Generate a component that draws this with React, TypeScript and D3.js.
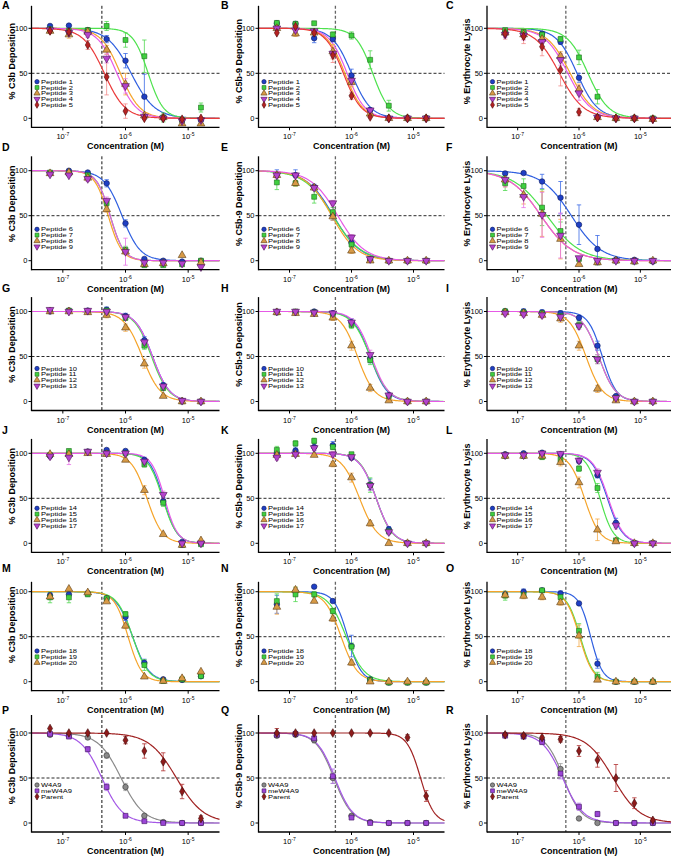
import React from 'react';
import * as d3 from 'd3';

// ---------- shared data ----------
const concentrations = [6.25e-8, 1.25e-7, 2.5e-7, 5e-7, 1e-6, 2e-6, 4e-6, 8e-6, 1.6e-5];
const xTickValues = [1e-7, 1e-6, 1e-5];
const xTickExponents = ['-7', '-6', '-5'];
const yTickValues = [0, 50, 100];
const panelLetters = ['A', 'B', 'C', 'D', 'E', 'F', 'G', 'H', 'I', 'J', 'K', 'L', 'M', 'N', 'O', 'P', 'Q', 'R'];
const yTitles = ['% C3b Deposition', '% C5b-9 Deposition', '% Erythrocyte Lysis'];
const xTitle = 'Concentration (M)';
const refConcentration = [4.2e-7, 5.5e-7, 6.1e-7];

// ---------- series labels ----------
const labelsRow1 = ['Peptide 1', 'Peptide 2', 'Peptide 3', 'Peptide 4', 'Peptide 5'];
const labelsRow2 = ['Peptide 6', 'Peptide 7', 'Peptide 8', 'Peptide 9'];
const labelsRow3 = ['Peptide 10', 'Peptide 11', 'Peptide 12', 'Peptide 13'];
const labelsRow4 = ['Peptide 14', 'Peptide 15', 'Peptide 16', 'Peptide 17'];
const labelsRow5 = ['Peptide 18', 'Peptide 19', 'Peptide 20'];
const labelsRow6 = ['W4A9', 'meW4A9', 'Parent'];

// ---------- panel A ----------
const valuesA = [
  [102.6, 103, 98, 88, 64, 24, 1, -2, -2],
  [99, 97, 98, 102.6, 87, 69, 1, -2, 12],
  [97, 93, 96, 76, 38, 3, 1, -6, -6],
  [98, 95, 93, 66.5, 36, 2, 0, -3, -2],
  [97, 96, 81.5, 46, 8, 0, 0, -1, 0],
];
const errorsA = [
  [2, 2, 2, 4, 8, 25, 2, 3, 2],
  [2, 2, 2, 5, 8, 18, 5, 2, 5],
  [3, 4, 3, 5, 12, 2, 2, 2, 2],
  [2, 3, 3, 5, 8, 2, 2, 2, 2],
  [2, 3, 5, 20, 8, 2, 2, 2, 2],
];
const ic50A = [1.23e-6, 2.3e-6, 8.3e-7, 7.3e-7, 4.6e-7];
const hillA = [2.3, 3.6, 2.8, 2.8, 2.6];

// ---------- panel B ----------
const valuesB = [
  [105.6, 105, 89, 88, 47.6, 9, 0, 0, 0],
  [106, 105, 105.6, 93, 92, 65, 14, 0, 0],
  [100, 94, 95, 74, 40, 5, 0, 0, 0],
  [100, 98, 97, 72, 42, 9, 0, 0, 0],
  [95, 102, 95, 70, 25, 1.5, 0, 0, 0],
];
const errorsB = [
  [2, 2, 5, 3, 7, 3, 1, 1, 1],
  [2, 2, 2, 3, 4, 10, 6, 1, 1],
  [2, 3, 2, 8, 5, 2, 1, 1, 1],
  [2, 2, 2, 5, 5, 2, 1, 1, 1],
  [2, 2, 2, 8, 4, 1, 1, 1, 1],
];
const ic50B = [1.0e-6, 2.2e-6, 7.8e-7, 8.5e-7, 7.4e-7];
const hillB = [2.8, 3.2, 3, 3, 3];

// ---------- panel C ----------
const valuesC = [
  [96, 95, 94, 85, 45, 1.5, 0, 0, -1],
  [98, 96, 93, 88, 67.7, 24, 0, 0, 0],
  [95, 93, 88, 69, 32, 1, 0, 0, -1],
  [93, 92, 85, 65, 28, 1, 0, 0, -1],
  [94, 91, 79.5, 54, 7, 0.7, 0, 0, -1],
];
const errorsC = [
  [2, 2, 2, 3, 5, 2, 1, 1, 1],
  [2, 3, 3, 3, 8, 8, 1, 1, 1],
  [3, 5, 5, 5, 6, 2, 1, 1, 1],
  [3, 5, 5, 6, 8, 2, 1, 1, 1],
  [6, 8, 10, 18, 4, 2, 1, 1, 1],
];
const ic50C = [9.3e-7, 1.4e-6, 7.2e-7, 6.6e-7, 4.8e-7];
const hillC = [2.6, 2.6, 2.3, 2.3, 2.2];

// ---------- panel D ----------
const valuesD = [
  [97, 100, 98, 86, 41.5, 2, 0, -1, 0],
  [98, 97, 95, 64, 12, -5, -5, -4, 0],
  [97, 98, 92, 57, 10, -4, -3, 6, -2],
  [96, 95, 91, 66.7, 10, -2, -2, -3, -7],
];
const errorsD = [
  [2, 2, 2, 4, 4, 2, 1, 1, 1],
  [2, 2, 3, 4, 4, 2, 2, 2, 2],
  [2, 2, 3, 3, 3, 2, 2, 2, 2],
  [2, 2, 3, 4, 15, 2, 2, 2, 2],
];
const ic50D = [8.8e-7, 5.7e-7, 5.3e-7, 5.7e-7];
const hillD = [3, 4, 4, 4];

// ---------- panel E ----------
const valuesE = [
  [95, 95, 82, 50, 20, 1, 0, 0, 0],
  [87, 86, 71, 54, 18, 2, 0, 0, 0],
  [95, 86, 81, 49, 11, 0, 0, 0, 0],
  [95, 95, 81, 64, 26, 2, 0, 0, 0],
];
const errorsE = [
  [6, 6, 3, 5, 3, 1, 1, 1, 1],
  [8, 3, 7, 5, 3, 1, 1, 1, 1],
  [3, 3, 3, 4, 3, 1, 1, 1, 1],
  [3, 3, 3, 3, 3, 1, 1, 1, 1],
];
const ic50E = [5.1e-7, 5.0e-7, 4.8e-7, 6.0e-7];
const hillE = [2.0, 1.9, 2.1, 2.0];

// ---------- panel F ----------
const valuesF = [
  [97, 97.4, 88, 70, 40, 13, 1, 1, -1],
  [86, 83, 59, 33, 2, -2, 0, -1, 0],
  [90, 73, 52, 24, -4, -2, 0, -1, 0],
  [90, 71, 51, 28, 3, 0, 0, 0, 0],
];
const errorsF = [
  [2, 2, 8, 18, 22, 15, 2, 2, 2],
  [8, 8, 20, 10, 2, 2, 1, 1, 1],
  [8, 10, 25, 22, 2, 2, 1, 1, 1],
  [8, 12, 25, 25, 2, 2, 1, 1, 1],
];
const ic50F = [7.5e-7, 3.0e-7, 2.4e-7, 2.4e-7];
const hillF = [1.8, 1.6, 1.7, 1.7];

// ---------- panel G ----------
const valuesG = [
  [100, 101, 101, 102, 95, 68, 18, 1, 0],
  [101, 101, 100, 101, 93, 62, 15, 0, 0],
  [100, 100, 99, 96, 82, 42, 6, 0, 0],
  [102, 100, 101, 100, 94, 66, 17, 1, 0],
];
const errorsG = [
  [2, 2, 2, 3, 3, 4, 3, 1, 1],
  [2, 2, 2, 3, 3, 4, 3, 1, 1],
  [2, 2, 2, 3, 4, 5, 2, 1, 1],
  [2, 2, 2, 3, 3, 4, 3, 1, 1],
];
const ic50G = [2.7e-6, 2.6e-6, 1.85e-6, 2.7e-6];
const hillG = [3.2, 3.2, 3, 3.2];

// ---------- panel H ----------
const valuesH = [
  [100, 99, 100, 98, 88, 48, 7, 0, 0],
  [99, 100, 99, 97, 85, 46, 6, 0, 0],
  [99, 98, 97, 93, 62, 15, 1, 0, 0],
  [100, 100, 99, 98, 88, 52, 7, 0, 0],
];
const errorsH = [
  [2, 2, 2, 3, 4, 5, 2, 1, 1],
  [2, 2, 2, 3, 4, 5, 2, 1, 1],
  [2, 2, 2, 3, 5, 4, 1, 1, 1],
  [2, 2, 2, 3, 4, 5, 2, 1, 1],
];
const ic50H = [2.0e-6, 2.0e-6, 1.25e-6, 2.1e-6];
const hillH = [3.2, 3, 3.2, 3.2];

// ---------- panel I ----------
const valuesI = [
  [100, 100, 99, 98, 93, 62, 6, 0, 0],
  [100, 99, 98, 95, 85, 47, 4, 0, 0],
  [99, 98, 96, 92, 62, 14, 1, 0, 0],
  [98, 97, 96, 94, 84, 47, 4, 0, 0],
];
const errorsI = [
  [3, 3, 3, 3, 3, 5, 2, 1, 1],
  [3, 3, 3, 3, 4, 5, 2, 1, 1],
  [3, 3, 3, 4, 5, 4, 1, 1, 1],
  [3, 3, 3, 3, 4, 5, 2, 1, 1],
];
const ic50I = [2.4e-6, 2.1e-6, 1.3e-6, 2.1e-6];
const hillI = [3.8, 3.2, 3.2, 3.2];

// ---------- panel J ----------
const valuesJ = [
  [97, 100, 102, 103.7, 102.6, 92.6, 46.8, 1.5, 0],
  [98, 102.6, 101, 100, 100, 87.7, 45, -2, -1],
  [99, 99, 100, 99, 92.6, 59, 10, -2, 3],
  [96.7, 95.5, 102, 100, 100, 91, 54, 0, 0],
];
const errorsJ = [
  [2, 2, 2, 2, 2, 3, 4, 2, 1],
  [2, 2, 2, 2, 2, 3, 4, 2, 1],
  [2, 2, 2, 2, 2, 5, 2, 2, 2],
  [3, 8, 2, 2, 2, 3, 4, 2, 1],
];
const ic50J = [4.0e-6, 3.9e-6, 2.2e-6, 4.2e-6];
const hillJ = [4, 3.8, 3.5, 4.2];

// ---------- panel K ----------
const valuesK = [
  [100, 103, 107, 109, 95, 65.4, 15.6, 0, 0],
  [103.7, 111, 113.8, 107, 99, 64.7, 13.4, 0, 0],
  [98, 99, 98, 88, 73, 22, 0, 0, 0],
  [95.5, 99, 106, 99, 96, 64, 12.6, 0, 0],
];
const errorsK = [
  [3, 4, 4, 4, 2, 6, 3, 1, 1],
  [4, 3, 3, 3, 2, 8, 3, 1, 1],
  [2, 2, 2, 3, 5, 3, 1, 1, 1],
  [3, 2, 3, 3, 2, 5, 3, 1, 1],
];
const ic50K = [2.5e-6, 2.5e-6, 1.35e-6, 2.5e-6];
const hillK = [3.3, 3.4, 3, 3.3];

// ---------- panel L ----------
const valuesL = [
  [99, 100, 100.7, 99, 91.5, 75.7, 22.8, 0, 0],
  [97, 97, 96, 93, 83, 61.4, 3.3, 0, 0],
  [97, 97, 97, 90, 67.6, 15, 2, 0, 0],
  [98, 98, 100, 99.6, 92, 78.7, 20, 0, 0],
];
const errorsL = [
  [2, 2, 2, 2, 3, 3, 5, 1, 1],
  [2, 2, 3, 3, 3, 5, 2, 1, 1],
  [2, 2, 3, 4, 6, 12, 2, 1, 1],
  [2, 2, 2, 2, 3, 4, 4, 1, 1],
];
const ic50L = [2.9e-6, 2.2e-6, 1.23e-6, 3.0e-6];
const hillL = [3.5, 4, 3.5, 3.5];

// ---------- panel M ----------
const valuesM = [
  [96, 97, 98, 92.6, 72, 21, 2.6, 2, 6],
  [93.7, 93.7, 97, 92.6, 75, 18.5, 0.7, 2.6, 6.3],
  [94.4, 103, 99, 89, 62, 5.5, 0.7, 3.7, 11],
];
const errorsM = [
  [3, 3, 3, 2, 4, 4, 1, 1, 1],
  [6, 6, 2, 2, 3, 6, 1, 1, 1],
  [2, 2, 2, 2, 3, 2, 1, 1, 1],
];
const ic50M = [1.3e-6, 1.3e-6, 1.1e-6];
const hillM = [3.3, 3.5, 4];

// ---------- panel N ----------
const valuesN = [
  [86, 100, 105.6, 89.6, 39.6, 2.6, -1, -1, -1],
  [89.6, 97, 97, 78.5, 39, 2, -1, -1, -1],
  [83, 102, 89.6, 70, 21, 0, 0, 0, 0],
];
const errorsN = [
  [10, 4, 2, 2, 12, 2, 1, 1, 1],
  [8, 8, 3, 3, 4, 2, 1, 1, 1],
  [8, 3, 2, 3, 3, 1, 1, 1, 1],
];
const ic50N = [8.7e-7, 8.2e-7, 6.8e-7];
const hillN = [4, 3, 3.3];

// ---------- panel O ----------
const valuesO = [
  [97, 100, 101.5, 98, 87, 20, 0, 0, 0],
  [95.6, 96.3, 101.5, 94, 56.5, 5.5, 0, 0, 0],
  [96.3, 95.2, 94, 88, 51, 2, 0, 0, 0],
];
const errorsO = [
  [3, 3, 2, 3, 2, 5, 1, 1, 1],
  [5, 3, 2, 3, 8, 5, 1, 1, 1],
  [3, 3, 3, 3, 12, 2, 1, 1, 1],
];
const ic50O = [1.55e-6, 1.05e-6, 1.02e-6];
const hillO = [4.5, 4, 4];

// ---------- panel P ----------
const valuesP = [
  [98, 97, 95, 75, 40, 8, 1, 0, 0],
  [99, 96, 82, 40, 8, 2, 0, 0, 0],
  [105, 100, 100, 100, 92, 80, 68, 35, 5],
];
const errorsP = [
  [2, 2, 2, 3, 4, 2, 1, 1, 1],
  [2, 2, 3, 4, 2, 1, 1, 1, 1],
  [2, 2, 2, 2, 4, 8, 10, 8, 3],
];
const ic50P = [8.5e-7, 4.2e-7, 6.5e-6];
const hillP = [2.4, 2.6, 2];

// ---------- panel Q ----------
const valuesQ = [
  [97, 98, 92, 50, 8, 1, 0, 0, 0],
  [98, 99, 94, 52, 6, 0, 0, 0, 0],
  [100, 100, 100, 100, 100, 100, 100, 95, 30],
];
const errorsQ = [
  [2, 2, 3, 6, 2, 1, 1, 1, 1],
  [2, 2, 3, 8, 2, 1, 1, 1, 1],
  [5, 2, 2, 2, 2, 2, 2, 3, 6],
];
const ic50Q = [5.2e-7, 5.4e-7, 1.3e-5];
const hillQ = [3, 3, 4];

// ---------- panel R ----------
const valuesR = [
  [98, 97, 92, 60, 5, 0, 0, 0, 0],
  [97, 96, 90, 55, 18, 10, 0, 0, 0],
  [98, 97, 95, 93, 80, 70, 50, 22, 3],
];
const errorsR = [
  [2, 2, 3, 6, 2, 1, 1, 1, 1],
  [2, 2, 3, 6, 4, 3, 1, 1, 1],
  [2, 2, 2, 3, 6, 8, 15, 6, 2],
];
const ic50R = [5.6e-7, 5.4e-7, 3.6e-6];
const hillR = [3, 2.6, 2];

// ---------- styles ----------
type SeriesStyle = { shape: string; fill: string; stroke: string; line: string; err: string };
const peptideStyles: SeriesStyle[] = [
  { shape: 'circle', fill: '#1f3fc4', stroke: '#0b1a5c', line: '#2f5fe0', err: '#3b6ae6' },
  { shape: 'square', fill: '#3fcf3f', stroke: '#1b6b1b', line: '#4ee24e', err: '#52d852' },
  { shape: 'triangle', fill: '#d79a46', stroke: '#5a3a12', line: '#f5a42a', err: '#f2aa4a' },
  { shape: 'triangleDown', fill: '#b443cc', stroke: '#4a1052', line: '#e65ae6', err: '#e674e6' },
  { shape: 'diamond', fill: '#b52222', stroke: '#4d0808', line: '#ea3b3b', err: '#f28a8a' },
];
const row6Styles: SeriesStyle[] = [
  { shape: 'circle', fill: '#8a8a8a', stroke: '#333333', line: '#8a8a8a', err: '#9a9a9a' },
  { shape: 'square', fill: '#9b45d6', stroke: '#3c0f5c', line: '#a457e6', err: '#b070e6' },
  { shape: 'diamond', fill: '#8e1b1b', stroke: '#3b0505', line: '#a02222', err: '#b03030' },
];

// ---------- layout ----------
const colRange = [[31.5, 219.5], [258.5, 444.5], [487, 671]];
const colLetterX = [2, 221, 446];
const rowY100 = [28.3, 170.7, 311.5, 453.3, 591.7, 733];
const rowYTop = [125, 116, 116, 116, 111, 120];
const rowLegendTop = [53.4, 58.6, 57, 55, 59.3, 52];
const yBottom = -10;

const panelValues = [valuesA, valuesB, valuesC, valuesD, valuesE, valuesF, valuesG, valuesH, valuesI, valuesJ, valuesK, valuesL, valuesM, valuesN, valuesO, valuesP, valuesQ, valuesR];
const panelErrors = [errorsA, errorsB, errorsC, errorsD, errorsE, errorsF, errorsG, errorsH, errorsI, errorsJ, errorsK, errorsL, errorsM, errorsN, errorsO, errorsP, errorsQ, errorsR];
const panelIc50 = [ic50A, ic50B, ic50C, ic50D, ic50E, ic50F, ic50G, ic50H, ic50I, ic50J, ic50K, ic50L, ic50M, ic50N, ic50O, ic50P, ic50Q, ic50R];
const panelHill = [hillA, hillB, hillC, hillD, hillE, hillF, hillG, hillH, hillI, hillJ, hillK, hillL, hillM, hillN, hillO, hillP, hillQ, hillR];
const rowLabels = [labelsRow1, labelsRow2, labelsRow3, labelsRow4, labelsRow5, labelsRow6];

const FONT = '"Liberation Sans", Arial, Helvetica, sans-serif';

function symbolPath(shape: string, size: number) {
  const map: Record<string, any> = {
    circle: d3.symbolCircle,
    square: d3.symbolSquare,
    triangle: d3.symbolTriangle,
    triangleDown: d3.symbolTriangle,
    diamond: d3.symbolDiamond,
  };
  const s = shape === 'triangle' || shape === 'triangleDown' ? size * 1.1 : shape === 'diamond' ? size * 0.9 : size;
  return d3.symbol().type(map[shape]).size(s)() as string;
}

function Marker({ x, y, st, size }: { x: number; y: number; st: SeriesStyle; size: number }) {
  const rot = st.shape === 'triangleDown' ? ' rotate(180)' : '';
  return (
    <path
      d={symbolPath(st.shape, size)}
      transform={`translate(${x},${y})${rot}`}
      fill={st.fill}
      stroke={st.stroke}
      strokeWidth={0.6}
    />
  );
}

function Panel({ idx }: { idx: number }) {
  const row = Math.floor(idx / 3);
  const col = idx % 3;
  const x = d3.scaleLog().domain([10 ** -7.5, 10 ** -4.5]).range(colRange[col]);
  const y = d3.scaleLinear().domain([0, 100]).range([rowY100[row] + 90, rowY100[row]]);
  const x0 = colRange[col][0];
  const x1 = colRange[col][1];
  const yAxisBottom = y(yBottom);
  const yAxisTop = y(rowYTop[row]);
  const styles = row === 5 ? row6Styles : peptideStyles;
  const labels = rowLabels[row];
  const values = panelValues[idx];
  const errors = panelErrors[idx];
  const ic50 = panelIc50[idx];
  const hill = panelHill[idx];

  const grid = d3.range(0, 241).map((i) => 10 ** (-7.5 + (3 * i) / 240));
  const line = d3
    .line<[number, number]>()
    .x((d) => x(d[0]))
    .y((d) => y(d[1]));

  const vDash = refConcentration[col];
  const vColor = col === 0 ? '#111' : '#666';
  const vWidth = col === 0 ? 1 : 1.3;

  return (
    <g>
      <text x={colLetterX[col]} y={rowY100[row] - 23.5} dominantBaseline="central" fontFamily={FONT} fontWeight="bold" fontSize={10.5}>
        {panelLetters[idx]}
      </text>
      <line x1={x0} x2={x1} y1={y(50)} y2={y(50)} stroke="#111" strokeWidth={0.9} strokeDasharray="3,2" />
      <line x1={x(vDash)} x2={x(vDash)} y1={yAxisTop} y2={yAxisBottom} stroke={vColor} strokeWidth={vWidth} strokeDasharray="3,2" />
      {values.map((_, s) => {
        const pts: [number, number][] = grid.map((c) => [c, 100 / (1 + Math.pow(c / ic50[s], hill[s]))]);
        return <path key={'c' + s} d={line(pts) as string} fill="none" stroke={styles[s].line} strokeWidth={1.2} />;
      })}
      {values.map((vals, s) => (
        <g key={'e' + s} stroke={styles[s].err} strokeWidth={0.8}>
          {vals.map((v, i) => {
            const e = errors[s][i];
            if (e < 2.5) return null;
            const cx = x(concentrations[i]);
            return (
              <g key={i}>
                <line x1={cx} x2={cx} y1={y(v - e)} y2={y(v + e)} />
                <line x1={cx - 2.2} x2={cx + 2.2} y1={y(v - e)} y2={y(v - e)} />
                <line x1={cx - 2.2} x2={cx + 2.2} y1={y(v + e)} y2={y(v + e)} />
              </g>
            );
          })}
        </g>
      ))}
      {values.map((vals, s) => (
        <g key={'p' + s}>
          {vals.map((v, i) => (
            <Marker key={i} x={x(concentrations[i])} y={y(v)} st={styles[s]} size={24} />
          ))}
        </g>
      ))}
      <line x1={x0} x2={x0} y1={yAxisTop} y2={yAxisBottom + 0.6} stroke="#000" strokeWidth={1.3} />
      <line x1={x0} x2={x1} y1={yAxisBottom} y2={yAxisBottom} stroke="#000" strokeWidth={1.3} />
      {yTickValues.map((t) => (
        <g key={'yt' + t}>
          <line x1={x0 - 3} x2={x0} y1={y(t)} y2={y(t)} stroke="#000" strokeWidth={1} />
          <text x={x0 - 4} y={y(t)} textAnchor="end" dominantBaseline="central" fontFamily={FONT} fontSize={7.5}>
            {t}
          </text>
        </g>
      ))}
      {xTickValues.map((t, i) => (
        <g key={'xt' + i}>
          <line x1={x(t)} x2={x(t)} y1={yAxisBottom} y2={yAxisBottom + 3} stroke="#000" strokeWidth={1} />
          <text x={x(t)} y={yAxisBottom + 12} textAnchor="middle" fontFamily={FONT} fontSize={7.5}>
            10
            <tspan dy={-3} fontSize={5}>
              {xTickExponents[i]}
            </tspan>
          </text>
        </g>
      ))}
      <text x={(x0 + x1) / 2} y={yAxisBottom + 22} textAnchor="middle" fontFamily={FONT} fontWeight="bold" fontSize={9}>
        {xTitle}
      </text>
      <text
        transform={`translate(${x0 - 20},${rowY100[row] + 33}) rotate(-90)`}
        textAnchor="middle"
        dominantBaseline="central"
        fontFamily={FONT}
        fontWeight="bold"
        fontSize={9}
      >
        {yTitles[col]}
      </text>
      {labels.map((lab, s) => {
        const ly = rowY100[row] + rowLegendTop[row] + s * 5.8;
        return (
          <g key={'l' + s}>
            <Marker x={x0 + 5.5} y={ly} st={styles[s]} size={15} />
            <text
              transform={`translate(${x0 + 9.5},${ly}) scale(1.28,1)`}
              dominantBaseline="central"
              fontFamily={FONT}
              fontSize={5.9}
            >
              {lab}
            </text>
          </g>
        );
      })}
    </g>
  );
}

export default function App() {
  return (
    <div style={{ position: 'absolute', left: 0, top: 0, width: 674, height: 858, background: '#fff' }}>
      <svg width={674} height={858} viewBox="0 0 674 858" style={{ display: 'block' }}>
        <rect width={674} height={858} fill="#fff" />
        {panelLetters.map((_, i) => (
          <Panel key={i} idx={i} />
        ))}
      </svg>
    </div>
  );
}
